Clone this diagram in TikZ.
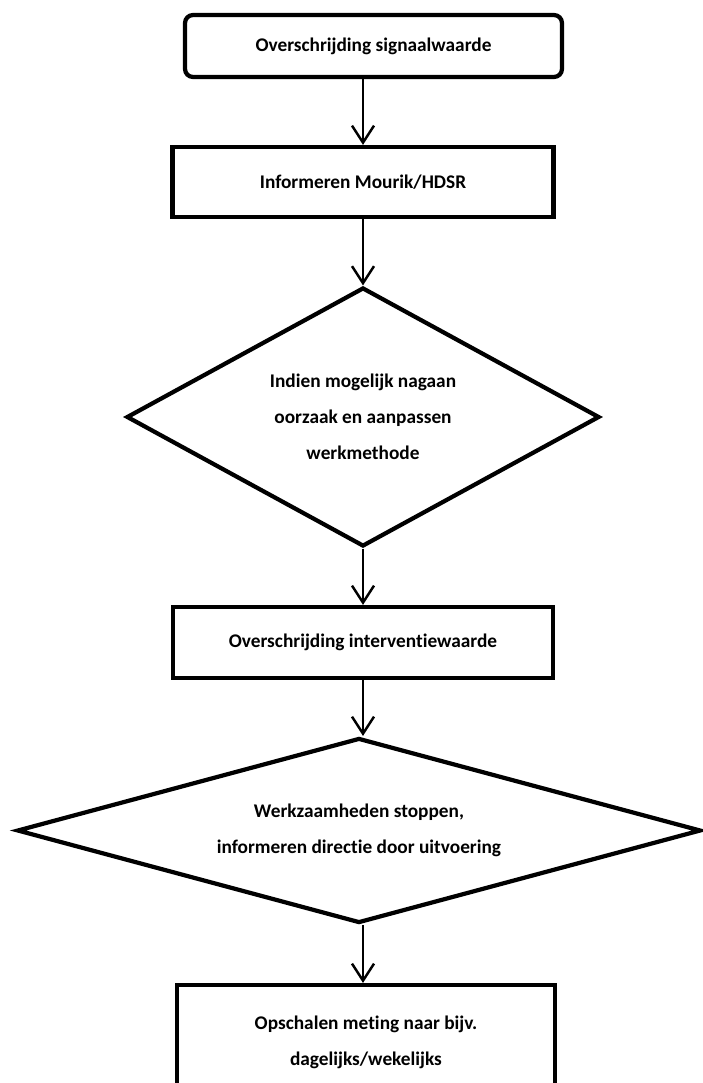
\documentclass[tikz,border=0pt]{standalone}
\usepackage{fontspec}
\setmainfont{Carlito}[Ligatures=NoCommon]
\usetikzlibrary{arrows.meta, shapes.geometric}

\begin{document}
\begin{tikzpicture}[x=0.02cm, y=-0.02cm,
	box/.style={draw, line width=2.4pt, fill=white, align=center, inner sep=0pt,
		font=\bfseries\fontsize{11}{20.5}\selectfont},
	ruit/.style={box, diamond},
	flow/.style={line width=1.4pt, -{Straight Barb[length=3.4mm, width=4.4mm]}}]

	\useasboundingbox (0,0) rectangle (703,1083);

	% the steps, top to bottom
	\node[box, rounded corners=0.16cm, minimum width=7.54cm, minimum height=1.24cm] (signaal) at (373.5,46) {Overschrijding signaalwaarde};
	\node[box, minimum width=7.62cm, minimum height=1.4cm] (info) at (363,182) {Informeren Mourik/HDSR};
	\node[ruit, aspect=1.83, minimum width=9.46cm, minimum height=5.18cm] (oorzaak) at (363,417) {Indien mogelijk nagaan\\oorzaak en aanpassen\\werkmethode};
	\node[box, minimum width=7.6cm, minimum height=1.42cm] (interventie) at (363,642.5) {Overschrijding interventiewaarde};
	\node[ruit, aspect=3.7, minimum width=13.68cm, minimum height=3.7cm] (stoppen) at (359,830.5) {Werkzaamheden stoppen,\\informeren directie door uitvoering};
	\node[box, minimum width=7.56cm, minimum height=2.28cm] (opschalen) at (366,1042) {Opschalen meting naar bijv.\\dagelijks/wekelijks};

	\draw[flow] (signaal.south -| info.north) -- (info.north);
	\draw[flow] (info) -- (oorzaak);
	\draw[flow] (oorzaak) -- (interventie);
	\draw[flow] (interventie.south) -- (interventie.south |- stoppen.north);
	\draw[flow] (interventie.south |- stoppen.south) -- (interventie.south |- opschalen.north);

\end{tikzpicture}
\end{document}
